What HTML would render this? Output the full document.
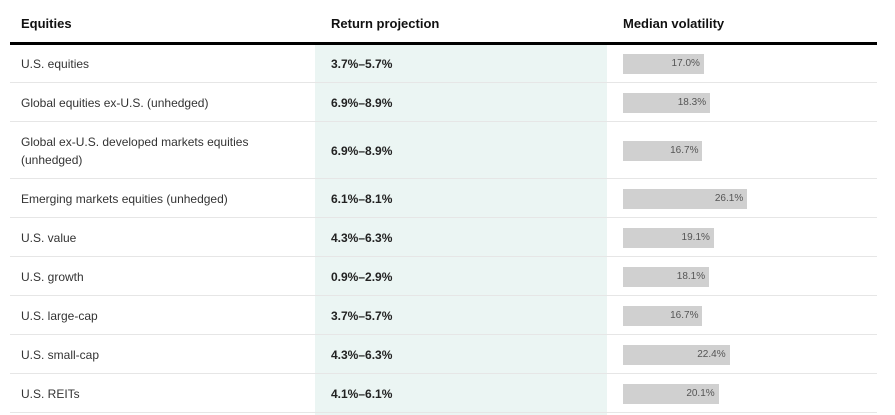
<!DOCTYPE html>
<html><head><meta charset="utf-8">
<style>
body{margin:0;width:895px;height:415px;background:#fff;overflow:hidden;font-family:"Liberation Sans",sans-serif;position:relative;color:#222}
.abs{position:absolute}
.h{font-weight:bold;font-size:13px;top:16px;color:#111}
.line{position:absolute;left:10px;width:867px;height:1px;background:#e6e6e6}
.lab{position:absolute;left:21px;font-size:12px;color:#333;line-height:18px;width:280px}
.ret{position:absolute;left:331px;font-size:12px;font-weight:bold;color:#222}
.bar{position:absolute;left:623px;height:20px;background:#d0d0d0;font-size:10px;color:#555;text-align:right;box-sizing:border-box;padding-right:4px;line-height:20px}
</style></head><body>
<div class="abs" style="left:315px;top:44px;width:292px;height:371px;background:#ebf5f3"></div>
<div class="abs h" style="left:21px">Equities</div>
<div class="abs h" style="left:331px">Return projection</div>
<div class="abs h" style="left:623px">Median volatility</div>
<div class="abs" style="left:10px;top:42px;width:867px;height:3px;background:#000"></div>
<script>
const labels=["U.S. equities","Global equities ex-U.S. (unhedged)","Global ex-U.S. developed markets equities (unhedged)","Emerging markets equities (unhedged)","U.S. value","U.S. growth","U.S. large-cap","U.S. small-cap","U.S. REITs"];
const returns=["3.7%–5.7%","6.9%–8.9%","6.9%–8.9%","6.1%–8.1%","4.3%–6.3%","0.9%–2.9%","3.7%–5.7%","4.3%–6.3%","4.1%–6.1%"];
const volatility=[17.0,18.3,16.7,26.1,19.1,18.1,16.7,22.4,20.1];
const heights=[39,39,57,39,39,39,39,39,39];
const xScale=v=>v*4.76;
const root=document.body;
let rowTop=45;
for(let i=0;i<labels.length;i++){
  const h=heights[i], cy=rowTop+h/2-1;
  const l=document.createElement('div');l.className='lab';
  
  
  l.textContent=labels[i];
  const lines=labels[i].length>40?2:1;
  l.style.top=(cy-9*lines)+'px';
  root.appendChild(l);
  const r=document.createElement('div');r.className='ret';
  
  
  r.textContent=returns[i];r.style.top=(cy-7)+'px';
  root.appendChild(r);
  const b=document.createElement('div');b.className='bar';
  
  
  b.style.width=xScale(volatility[i])+'px';b.style.top=(cy-10)+'px';
  b.textContent=volatility[i].toFixed(1)+'%';
  root.appendChild(b);
  rowTop+=h;
  const ln=document.createElement('div');ln.className='line';
  
  
  ln.style.top=(rowTop-2)+'px';
  root.appendChild(ln);
}
</script>
</body></html>
